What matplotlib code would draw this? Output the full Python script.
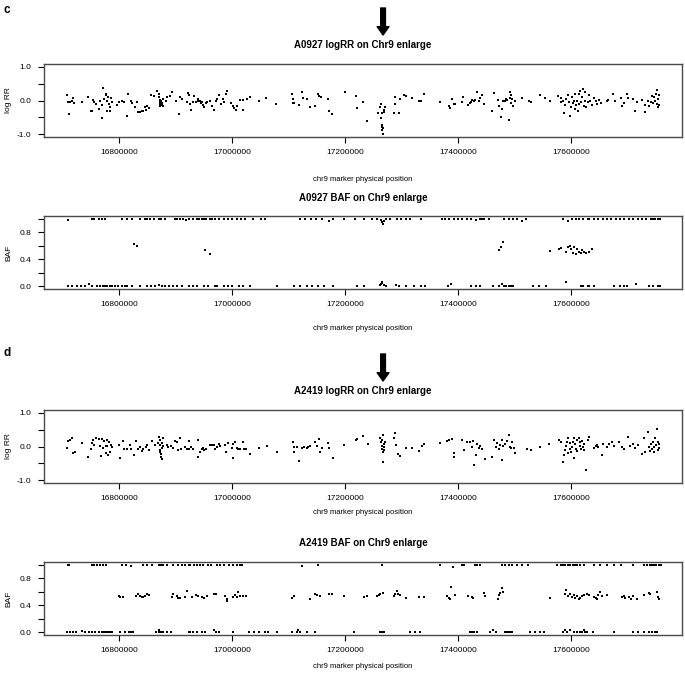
import numpy as np
import matplotlib
matplotlib.use("Agg")
from matplotlib import pyplot as plt

plt.rcParams["font.family"] = ["Liberation Sans", "DejaVu Sans"]

# positions in kb
C_LRR_POS = [16707, 16709, 16711, 16713, 16716, 16719, 16720, 16734, 16745, 16750,
             16752, 16753, 16756, 16759, 16764, 16766, 16769, 16770, 16772, 16774,
             16776, 16777, 16778, 16779, 16781, 16782, 16783, 16784, 16786, 16788,
             16797, 16799, 16805, 16808, 16813, 16815, 16821, 16823, 16828, 16832,
             16834, 16837, 16840, 16843, 16845, 16847, 16849, 16853, 16857, 16861,
             16867, 16871, 16871, 16872, 16872, 16873, 16873, 16874, 16875, 16876,
             16877, 16877, 16883, 16885, 16890, 16894, 16900, 16906, 16908, 16911,
             16920, 16922, 16924, 16926, 16927, 16930, 16933, 16936, 16939, 16940,
             16943, 16945, 16947, 16949, 16951, 16953, 16956, 16960, 16964, 16967,
             16972, 16974, 16977, 16980, 16983, 16986, 16989, 16991, 16998, 17001,
             17003, 17007, 17009, 17013, 17019, 17020, 17026, 17032, 17048, 17060,
             17078, 17106, 17107, 17108, 17110, 17119, 17123, 17125, 17132, 17137,
             17147, 17151, 17154, 17157, 17170, 17172, 17177, 17199, 17219, 17220,
             17232, 17238, 17258, 17262, 17263, 17264, 17265, 17266, 17266, 17267,
             17268, 17266, 17269, 17265, 17267, 17271, 17286, 17288, 17289, 17295,
             17297, 17304, 17307, 17318, 17330, 17334, 17340, 17368, 17383, 17386,
             17389, 17393, 17395, 17407, 17408, 17418, 17420, 17423, 17425, 17428,
             17430, 17433, 17436, 17439, 17442, 17446, 17460, 17464, 17470, 17473,
             17476, 17477, 17479, 17482, 17485, 17487, 17490, 17491, 17492, 17493,
             17494, 17495, 17497, 17501, 17513, 17525, 17529, 17545, 17554, 17563,
             17577, 17581, 17582, 17585, 17588, 17589, 17591, 17594, 17596, 17598,
             17600, 17601, 17603, 17604, 17606, 17607, 17608, 17610, 17612, 17613,
             17614, 17616, 17618, 17619, 17620, 17622, 17624, 17625, 17626, 17629,
             17631, 17634, 17637, 17640, 17643, 17646, 17650, 17653, 17663, 17665,
             17674, 17677, 17688, 17690, 17694, 17699, 17700, 17710, 17712, 17716,
             17726, 17730, 17731, 17735, 17738, 17741, 17743, 17745, 17747, 17749,
             17750, 17751, 17752, 17753, 17754, 17755, 17755]
C_LRR_VAL = [0.17, -0.05, -0.40, -0.05, 0.00, 0.07, -0.08, -0.05, 0.09, -0.30,
             -0.31, 0.02, -0.05, -0.10, -0.25, 0.00, -0.51, -0.13, 0.38, 0.05,
             0.20, 0.15, -0.32, 0.00, 0.10, -0.10, -0.20, -0.30, 0.08, -0.05,
             -0.13, -0.05, 0.00, -0.04, -0.47, 0.20, 0.00, -0.06, -0.18, -0.03,
             -0.34, -0.34, -0.32, -0.31, -0.20, -0.27, -0.15, -0.22, 0.15, 0.12,
             0.29, 0.18, 0.10, 0.02, -0.05, -0.10, -0.15, 0.00, -0.08, -0.12,
             0.04, -0.16, 0.00, 0.10, 0.13, 0.26, 0.00, -0.39, 0.10, 0.05,
             -0.03, 0.23, 0.15, -0.10, -0.28, -0.03, 0.13, -0.03, 0.05, 0.00,
             -0.02, -0.08, -0.05, -0.12, -0.18, -0.08, -0.03, 0.00, -0.15, -0.27,
             0.00, 0.05, 0.15, -0.10, 0.05, -0.05, 0.18, 0.29, -0.06, -0.16,
             -0.23, -0.27, -0.16, 0.02, -0.29, 0.02, 0.04, 0.09, 0.00, 0.07,
             -0.10, 0.19, 0.04, -0.08, -0.06, -0.13, 0.24, 0.07, 0.04, -0.18,
             -0.16, 0.19, 0.12, 0.10, 0.04, -0.32, -0.41, 0.26, 0.14, -0.21,
             -0.05, -0.62, -0.37, -0.20, -0.53, -0.10, -0.75, -0.72, -0.77, -0.80,
             -0.27, -0.37, -0.35, -0.88, -1.00, -0.20, -0.37, -0.11, 0.09, -0.37,
             0.04, 0.15, 0.14, 0.07, 0.00, 0.00, 0.19, -0.03, -0.16, -0.23,
             0.04, -0.10, -0.10, -0.05, 0.10, -0.13, -0.08, -0.05, 0.02, 0.00,
             0.02, 0.25, 0.00, 0.08, 0.15, -0.10, -0.30, 0.22, 0.02, -0.15,
             -0.48, -0.25, 0.00, 0.00, 0.03, 0.02, -0.59, 0.08, 0.25, 0.15,
             -0.07, 0.05, -0.15, -0.02, 0.08, -0.02, -0.03, 0.17, 0.08, -0.02,
             0.12, -0.05, 0.08, 0.00, -0.37, -0.12, 0.05, 0.15, -0.05, -0.47,
             -0.20, 0.10, -0.08, 0.00, -0.25, 0.18, -0.12, 0.00, -0.30, 0.20,
             -0.10, 0.29, -0.03, 0.10, 0.34, -0.15, 0.00, 0.25, -0.20, -0.05,
             0.15, 0.00, -0.12, 0.08, -0.02, -0.10, 0.02, -0.06, 0.00, 0.02,
             0.20, 0.00, 0.08, -0.15, -0.08, 0.20, 0.08, 0.05, -0.30, -0.05,
             0.02, -0.34, -0.12, 0.00, -0.15, -0.03, 0.12, -0.08, 0.10, 0.00,
             0.20, 0.32, -0.10, 0.05, -0.20, -0.12, 0.15]

C_BAF_POS = [16709, 16752, 16756, 16764, 16769, 16775, 16805, 16814, 16822, 16836,
             16845, 16849, 16854, 16861, 16870, 16874, 16882, 16898, 16903, 16907,
             16913, 16919, 16923, 16930, 16937, 16942, 16946, 16950, 16954, 16960,
             16965, 16969, 16977, 16985, 16992, 17000, 17008, 17016, 17023, 17037,
             17051, 17058, 17120, 17128, 17140, 17148, 17159, 17171, 17179, 17198,
             17217, 17233, 17248, 17256, 17264, 17266, 17267, 17269, 17272, 17279,
             17291, 17299, 17307, 17314, 17334, 17371, 17376, 17384, 17392, 17400,
             17407, 17415, 17423, 17431, 17438, 17442, 17446, 17454, 17481, 17489,
             17497, 17504, 17512, 17520, 17586, 17594, 17601, 17609, 17613, 17621,
             17629, 17632, 17640, 17648, 17656, 17664, 17671, 17679, 17687, 17694,
             17702, 17710, 17718, 17726, 17733, 17741, 17745, 17749, 17753, 17757,
             16826, 16831, 16952, 16961, 17472, 17476, 17479, 17563, 17578, 17582,
             17590, 17594, 17598, 17600, 17603, 17605, 17608, 17611, 17613, 17617,
             17619, 17622, 17627, 17632, 17636, 17590,
             16709, 16717, 16725, 16733, 16740, 16746, 16752, 16760, 16766, 16771,
             16775, 16779, 16783, 16787, 16792, 16798, 16805, 16810, 16814, 16822,
             16837, 16849, 16857, 16864, 16870, 16876, 16882, 16888, 16895, 16903,
             16911, 16923, 16930, 16938, 16950, 16957, 16969, 16973, 16985, 16992,
             17000, 17012, 17020, 17031, 17079, 17109, 17120, 17132, 17141, 17151,
             17163, 17179, 17221, 17233, 17262, 17264, 17265, 17266, 17268, 17272,
             17290, 17295, 17307, 17322, 17334, 17342, 17382, 17388, 17423, 17431,
             17438, 17462, 17473, 17477, 17481, 17485, 17489, 17493, 17497, 17532,
             17543, 17555, 17617, 17621, 17629, 17632, 17640, 17675, 17687, 17694,
             17698, 17714, 17737, 17745, 17753, 17757]
C_BAF_VAL = [0.98, 1.00, 1.00, 0.99, 1.00, 1.00, 1.00, 0.99, 1.00, 1.00,
             1.00, 0.99, 1.00, 1.00, 1.00, 0.99, 1.00, 1.00, 1.00, 0.99,
             1.00, 0.98, 1.00, 1.00, 0.99, 1.00, 1.00, 1.00, 0.99, 1.00,
             1.00, 1.00, 1.00, 0.99, 1.00, 1.00, 1.00, 1.00, 1.00, 1.00,
             0.99, 1.00, 0.99, 1.00, 1.00, 0.99, 1.00, 0.97, 1.00, 1.00,
             1.00, 1.00, 1.00, 1.00, 0.98, 0.95, 0.92, 0.97, 1.00, 1.00,
             1.00, 0.99, 1.00, 1.00, 1.00, 1.00, 0.99, 1.00, 1.00, 0.99,
             1.00, 0.99, 1.00, 0.98, 1.00, 0.99, 1.00, 1.00, 1.00, 1.00,
             1.00, 1.00, 0.97, 1.00, 1.00, 0.97, 1.00, 1.00, 0.99, 1.00,
             1.00, 0.99, 1.00, 1.00, 1.00, 0.99, 1.00, 1.00, 1.00, 0.99,
             1.00, 1.00, 0.99, 1.00, 1.00, 1.00, 1.00, 1.00, 1.00, 1.00,
             0.63, 0.59, 0.54, 0.48, 0.54, 0.58, 0.65, 0.52, 0.55, 0.56,
             0.51, 0.58, 0.60, 0.55, 0.50, 0.58, 0.48, 0.55, 0.51, 0.49,
             0.54, 0.51, 0.49, 0.51, 0.55, 0.06,
             0.00, 0.01, 0.00, 0.01, 0.00, 0.03, 0.01, 0.00, 0.01, 0.00,
             0.01, 0.01, 0.00, 0.01, 0.00, 0.01, 0.00, 0.01, 0.00, 0.01,
             0.00, 0.01, 0.00, 0.01, 0.02, 0.00, 0.01, 0.00, 0.01, 0.00,
             0.01, 0.00, 0.01, 0.00, 0.01, 0.00, 0.01, 0.00, 0.00, 0.01,
             0.00, 0.01, 0.00, 0.00, 0.00, 0.01, 0.00, 0.01, 0.00, 0.01,
             0.00, 0.01, 0.00, 0.01, 0.02, 0.04, 0.07, 0.05, 0.02, 0.00,
             0.02, 0.01, 0.00, 0.01, 0.00, 0.00, 0.01, 0.04, 0.00, 0.01,
             0.00, 0.01, 0.00, 0.04, 0.01, 0.00, 0.01, 0.00, 0.01, 0.00,
             0.01, 0.00, 0.01, 0.00, 0.01, 0.00, 0.00, 0.00, 0.01, 0.00,
             0.01, 0.03, 0.00, 0.01, 0.00, 0.01]

D_LRR_POS = [16707, 16710, 16713, 16717, 16719, 16721, 16734, 16744, 16750, 16752,
             16754, 16756, 16759, 16765, 16766, 16768, 16770, 16772, 16774, 16776,
             16777, 16778, 16779, 16781, 16782, 16784, 16786, 16788, 16799, 16802,
             16806, 16809, 16814, 16819, 16821, 16827, 16830, 16834, 16837, 16841,
             16843, 16847, 16850, 16853, 16858, 16864, 16868, 16871, 16872, 16873,
             16873, 16873, 16874, 16874, 16875, 16876, 16876, 16877, 16877, 16884,
             16886, 16891, 16895, 16899, 16902, 16908, 16905, 16910, 16917, 16923,
             16920, 16924, 16927, 16930, 16940, 16940, 16943, 16946, 16949, 16950,
             16953, 16961, 16964, 16967, 16970, 16973, 16976, 16979, 16988, 16989,
             16992, 17000, 17001, 17002, 17005, 17008, 17011, 17014, 17019, 17021,
             17025, 17032, 17048, 17061, 17079, 17107, 17109, 17110, 17115, 17119,
             17123, 17127, 17132, 17135, 17138, 17147, 17150, 17153, 17156, 17159,
             17169, 17171, 17178, 17198, 17219, 17221, 17232, 17240, 17262, 17264,
             17265, 17266, 17266, 17267, 17267, 17268, 17268, 17269, 17267, 17270,
             17289, 17287, 17290, 17294, 17297, 17308, 17318, 17330, 17336, 17339,
             17368, 17381, 17384, 17389, 17392, 17393, 17407, 17410, 17415, 17420,
             17424, 17427, 17428, 17432, 17434, 17436, 17439, 17442, 17447, 17460,
             17464, 17466, 17469, 17472, 17474, 17477, 17478, 17480, 17483, 17486,
             17489, 17491, 17493, 17495, 17498, 17501, 17522, 17529, 17545, 17560,
             17578, 17582, 17586, 17588, 17589, 17591, 17592, 17594, 17595, 17597,
             17598, 17599, 17601, 17603, 17604, 17605, 17607, 17608, 17610, 17611,
             17613, 17615, 17616, 17617, 17619, 17621, 17622, 17623, 17627, 17629,
             17631, 17640, 17643, 17646, 17648, 17654, 17657, 17663, 17666, 17672,
             17675, 17684, 17690, 17693, 17700, 17704, 17709, 17713, 17719, 17725,
             17729, 17731, 17735, 17737, 17739, 17741, 17743, 17745, 17746, 17747,
             17749, 17750, 17752, 17753, 17754, 17755, 17756]
D_LRR_VAL = [-0.04, 0.16, 0.20, 0.24, -0.19, -0.16, 0.09, -0.30, -0.06, 0.09,
             0.19, 0.04, 0.24, 0.23, 0.01, -0.27, 0.22, -0.03, 0.16, 0.01,
             -0.20, 0.19, 0.01, -0.25, 0.14, -0.16, 0.04, -0.01, 0.04, -0.35,
             0.17, -0.06, -0.08, 0.04, -0.06, -0.24, 0.17, -0.06, -0.01, -0.13,
             -0.08, -0.01, 0.03, -0.09, 0.16, 0.04, 0.09, 0.28, 0.19, 0.04,
             -0.09, -0.16, -0.23, -0.30, -0.36, -0.03, 0.09, 0.24, 0.01, 0.04,
             -0.01, 0.01, -0.03, 0.17, 0.14, 0.26, -0.11, -0.06, -0.02, 0.16,
             -0.06, -0.06, -0.01, -0.06, 0.19, -0.30, -0.16, -0.06, -0.03, -0.11,
             -0.08, 0.04, 0.04, 0.04, -0.06, -0.01, 0.07, 0.01, 0.04, -0.16,
             0.09, -0.04, -0.35, 0.06, 0.14, -0.04, -0.06, -0.06, 0.12, -0.06,
             -0.06, -0.21, -0.04, 0.02, -0.16, 0.14, -0.01, -0.16, -0.01, -0.43,
             -0.04, -0.01, -0.04, -0.02, 0.02, 0.14, 0.02, 0.21, -0.16, -0.04,
             0.09, -0.04, -0.33, 0.04, 0.19, 0.22, 0.31, 0.08, 0.24, 0.12,
             0.02, -0.06, 0.19, -0.16, 0.33, 0.06, -0.11, -0.01, -0.45, 0.12,
             0.41, 0.26, 0.04, -0.21, -0.27, -0.04, -0.04, -0.12, 0.02, 0.06,
             0.09, 0.16, 0.18, 0.22, -0.30, -0.18, 0.19, -0.11, 0.14, 0.12,
             -0.01, 0.16, -0.55, -0.25, 0.06, -0.04, 0.02, -0.06, -0.38, -0.30,
             0.19, -0.01, 0.09, -0.06, 0.04, 0.19, -0.40, 0.02, 0.06, 0.16,
             0.35, -0.01, -0.04, 0.14, -0.04, -0.18, -0.08, -0.11, -0.01, 0.06,
             0.19, 0.12, -0.47, -0.24, -0.11, 0.02, 0.12, -0.18, 0.24, -0.06,
             0.09, -0.16, -0.01, 0.14, 0.25, -0.35, 0.06, -0.08, 0.19, -0.14,
             0.25, 0.02, 0.12, -0.06, 0.16, -0.01, -0.11, 0.06, -0.71, 0.19,
             0.27, -0.04, 0.02, 0.04, -0.01, -0.25, 0.06, -0.01, 0.06, 0.12,
             0.02, 0.12, -0.01, -0.06, 0.28, 0.02, 0.06, -0.04, 0.04, -0.21,
             0.26, -0.16, 0.43, -0.01, -0.14, 0.06, -0.06, 0.12, -0.16, -0.01,
             0.24, 0.04, 0.51, -0.11, 0.14, -0.04, 0.06]

D_BAF_POS = [16709, 16712, 16752, 16756, 16760, 16766, 16772, 16777, 16805, 16812,
             16821, 16843, 16850, 16858, 16871, 16874, 16877, 16884, 16895, 16905,
             16911, 16917, 16923, 16926, 16932, 16937, 16943, 16949, 16958, 16962,
             16973, 16979, 16986, 16994, 17002, 17008, 17014, 17017, 17123, 17151,
             17265, 17368, 17390, 17406, 17410, 17430, 17433, 17439, 17477, 17483,
             17489, 17495, 17504, 17513, 17524, 17575, 17581, 17586, 17589, 17595,
             17598, 17603, 17607, 17610, 17616, 17622, 17640, 17651, 17663, 17675,
             17688, 17710, 17728, 17734, 17740, 17743, 17747, 17750, 17755, 17758,
             16799, 16802, 16806, 16830, 16834, 16837, 16841, 16843, 16846, 16849,
             16852, 16893, 16896, 16902, 16905, 16908, 16917, 16920, 16929, 16936,
             16940, 16946, 16950, 16956, 16967, 16972, 16988, 16990, 16991, 17002,
             17005, 17008, 17011, 17014, 17020, 17025, 17106, 17109, 17138, 17147,
             17150, 17155, 17171, 17176, 17197, 17233, 17238, 17256, 17259, 17262,
             17267, 17286, 17289, 17292, 17294, 17297, 17308, 17330, 17339, 17380,
             17383, 17385, 17387, 17395, 17418, 17424, 17427, 17445, 17448, 17470,
             17473, 17474, 17477, 17479, 17562, 17589, 17591, 17595, 17598, 17601,
             17604, 17607, 17610, 17613, 17616, 17619, 17622, 17628, 17631, 17640,
             17643, 17646, 17648, 17651, 17654, 17664, 17690, 17693, 17696, 17702,
             17705, 17710, 17716, 17728, 17737, 17740, 17752, 17753, 17755,
             16707, 16713, 16718, 16724, 16734, 16740, 16746, 16752, 16758, 16765,
             16769, 16773, 16777, 16778, 16781, 16784, 16787, 16802, 16811, 16817,
             16821, 16825, 16865, 16870, 16871, 16874, 16878, 16884, 16891, 16923,
             16926, 16930, 16937, 16946, 16952, 16967, 16972, 16976, 17002, 17029,
             17038, 17047, 17058, 17064, 17079, 17106, 17114, 17117, 17120, 17132,
             17147, 17215, 17262, 17265, 17267, 17268, 17269, 17315, 17324, 17333,
             17421, 17424, 17428, 17433, 17457, 17461, 17466, 17483, 17486, 17489,
             17492, 17495, 17527, 17536, 17544, 17551, 17586, 17589, 17592, 17598,
             17604, 17610, 17616, 17619, 17622, 17625, 17628, 17638, 17675, 17710,
             17719, 17728, 17737, 17743, 17749, 17752]
D_BAF_VAL = [1.00, 1.00, 1.00, 0.99, 1.00, 1.00, 0.99, 1.00, 1.00, 0.99,
             0.98, 1.00, 1.00, 1.00, 1.00, 0.99, 1.00, 1.00, 1.00, 1.00,
             0.99, 1.00, 1.00, 1.00, 0.99, 1.00, 1.00, 1.00, 0.99, 1.00,
             1.00, 1.00, 0.99, 1.00, 1.00, 1.00, 0.99, 1.00, 0.98, 1.00,
             1.00, 1.00, 0.97, 1.00, 0.99, 1.00, 1.00, 0.99, 1.00, 1.00,
             1.00, 0.99, 1.00, 1.00, 1.00, 1.00, 1.00, 0.99, 1.00, 1.00,
             1.00, 0.99, 1.00, 1.00, 1.00, 1.00, 1.00, 0.99, 1.00, 1.00,
             1.00, 1.00, 1.00, 0.99, 1.00, 1.00, 1.00, 1.00, 1.00, 1.00,
             0.53, 0.52, 0.52, 0.53, 0.56, 0.54, 0.52, 0.52, 0.53, 0.56,
             0.55, 0.52, 0.56, 0.53, 0.51, 0.51, 0.52, 0.61, 0.52, 0.55,
             0.53, 0.52, 0.51, 0.53, 0.56, 0.57, 0.53, 0.50, 0.47, 0.52,
             0.55, 0.52, 0.60, 0.53, 0.53, 0.53, 0.51, 0.54, 0.50, 0.56,
             0.55, 0.53, 0.57, 0.56, 0.53, 0.52, 0.53, 0.53, 0.55, 0.57,
             0.58, 0.53, 0.56, 0.61, 0.57, 0.55, 0.51, 0.52, 0.52, 0.53,
             0.51, 0.49, 0.67, 0.55, 0.53, 0.52, 0.51, 0.58, 0.54, 0.49,
             0.55, 0.58, 0.66, 0.60, 0.51, 0.56, 0.63, 0.53, 0.56, 0.52,
             0.55, 0.51, 0.53, 0.49, 0.51, 0.53, 0.55, 0.57, 0.55, 0.52,
             0.51, 0.49, 0.55, 0.60, 0.53, 0.55, 0.52, 0.53, 0.51, 0.52,
             0.49, 0.53, 0.50, 0.55, 0.58, 0.56, 0.60, 0.52, 0.49,
             0.00, 0.01, 0.00, 0.01, 0.02, 0.00, 0.01, 0.00, 0.01, 0.00,
             0.01, 0.00, 0.01, 0.01, 0.00, 0.01, 0.00, 0.01, 0.00, 0.01,
             0.00, 0.01, 0.01, 0.00, 0.03, 0.01, 0.00, 0.01, 0.00, 0.01,
             0.00, 0.01, 0.00, 0.01, 0.00, 0.03, 0.01, 0.00, 0.01, 0.00,
             0.01, 0.00, 0.01, 0.00, 0.01, 0.00, 0.01, 0.04, 0.00, 0.01,
             0.00, 0.01, 0.01, 0.00, 0.01, 0.00, 0.01, 0.00, 0.01, 0.00,
             0.01, 0.00, 0.01, 0.00, 0.01, 0.03, 0.00, 0.01, 0.00, 0.01,
             0.00, 0.01, 0.00, 0.01, 0.00, 0.01, 0.00, 0.04, 0.01, 0.03,
             0.00, 0.01, 0.00, 0.01, 0.03, 0.00, 0.01, 0.00, 0.01, 0.00,
             0.01, 0.00, 0.01, 0.00, 0.01, 0.00]

XTICKS = [16800000, 17000000, 17200000, 17400000, 17600000]
XLIM = (16667000, 17796000)
XLABEL = "chr9 marker physical position"
ARROW_POS = 17267000

W, H = 685, 677
AX_LEFT, AX_RIGHT = 44, 682
AX_H = 73
# pixel rows (from top) of each panel: box top, title, x label
PANEL_TOPS = [64, 216, 410, 562]
TITLE_Y = [45, 198, 391, 543]
XLABEL_Y = [179, 328, 512, 667]
BOX_COL = "#4a4a4a"


def panel(fig, i, title, pos_kb, vals, kind):
    top = PANEL_TOPS[i]
    ax = fig.add_axes([AX_LEFT / W, 1 - (top + AX_H) / H,
                       (AX_RIGHT - AX_LEFT) / W, AX_H / H])
    x = np.array(pos_kb) * 1000
    ax.scatter(x, vals, s=1.7, c="black", marker="s", linewidths=0)
    ax.set_xlim(*XLIM)
    ax.set_xticks(XTICKS)
    ax.set_xticklabels([str(t) for t in XTICKS])
    if kind == "lrr":
        ax.set_ylim(-1.08, 1.08)
        ax.set_yticks([-1.0, -0.5, 0.0, 0.5, 1.0])
        ax.set_yticklabels(["-1.0", "", "0.0", "", "1.0"])
        ax.set_ylabel("log RR", fontsize=6)
    else:
        ax.set_ylim(-0.04, 1.04)
        ax.set_yticks([0.0, 0.2, 0.4, 0.6, 0.8, 1.0])
        ax.set_yticklabels(["0.0", "", "0.4", "", "0.8", ""])
        ax.set_ylabel("BAF", fontsize=6)
    ax.yaxis.set_label_coords(-0.05, 0.5)
    ax.tick_params(direction="out", length=4, width=0.8, labelsize=6,
                   colors="black", pad=5)
    for s in ax.spines.values():
        s.set_color(BOX_COL)
        s.set_linewidth(1.0)

    cx = (AX_LEFT + AX_RIGHT) / 2 / W
    fig.text(cx, 1 - TITLE_Y[i] / H, title, fontsize=7, fontweight="bold",
             ha="center", va="center")
    fig.text(cx, 1 - XLABEL_Y[i] / H, XLABEL, fontsize=5.5, ha="center", va="center")
    return ax


def main():
    fig = plt.figure(figsize=(W / 100, H / 100), dpi=100)

    ax1 = panel(fig, 0, "A0927 logRR on Chr9 enlarge", C_LRR_POS, C_LRR_VAL, "lrr")
    panel(fig, 1, "A0927 BAF on Chr9 enlarge", C_BAF_POS, C_BAF_VAL, "baf")
    ax3 = panel(fig, 2, "A2419 logRR on Chr9 enlarge", D_LRR_POS, D_LRR_VAL, "lrr")
    panel(fig, 3, "A2419 BAF on Chr9 enlarge", D_BAF_POS, D_BAF_VAL, "baf")

    # arrows pointing at the deletion region
    for ax in (ax1, ax3):
        ax.annotate("", xy=(ARROW_POS, 1 + 29 / AX_H), xycoords=("data", "axes fraction"),
                    xytext=(ARROW_POS, 1 + 56 / AX_H), textcoords=("data", "axes fraction"),
                    arrowprops=dict(facecolor="black", edgecolor="black", width=3.4,
                                    headwidth=8.5, headlength=6, shrink=0),
                    annotation_clip=False)

    fig.text(4 / W, 1 - 10 / H, "c", fontsize=8.5, fontweight="bold", va="center")
    fig.text(4 / W, 1 - 353 / H, "d", fontsize=8.5, fontweight="bold", va="center")

    fig.savefig("out.png", dpi=100)


if __name__ == "__main__":
    main()
